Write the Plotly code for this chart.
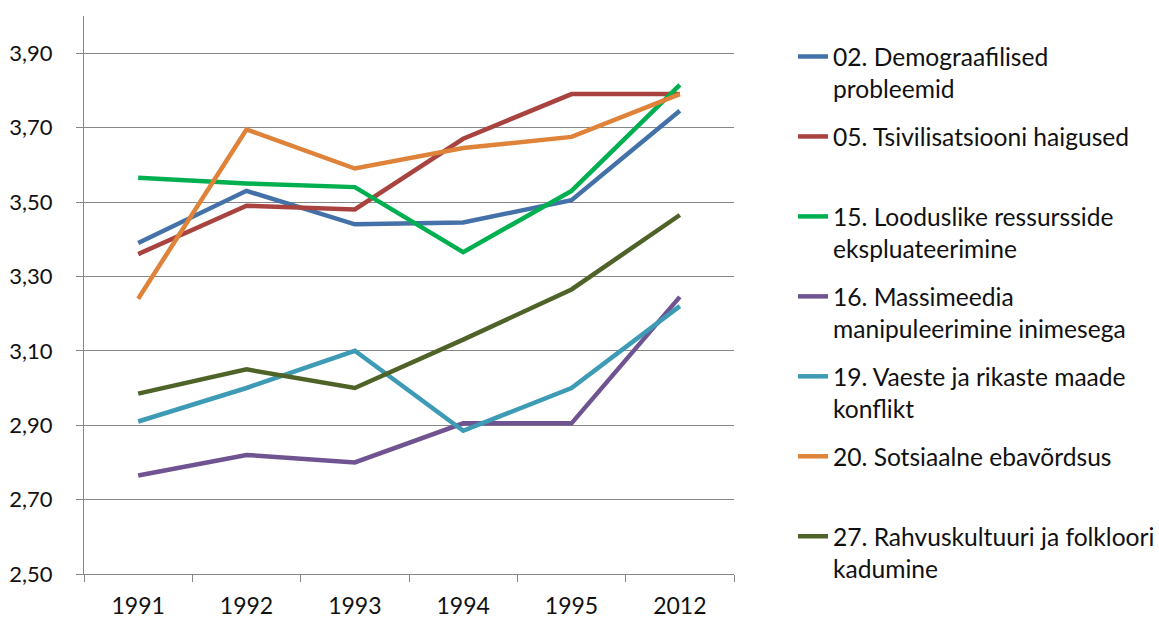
import plotly.graph_objects as go

years = ["1991", "1992", "1993", "1994", "1995", "2012"]

names = [
    "02. Demograafilised<br>probleemid",
    "05. Tsivilisatsiooni haigused<br> ",
    "15. Looduslike ressursside<br>ekspluateerimine",
    "16. Massimeedia<br>manipuleerimine inimesega",
    "19. Vaeste ja rikaste maade<br>konflikt",
    "20. Sotsiaalne ebavõrdsus<br> ",
    "27. Rahvuskultuuri ja folkloori<br>kadumine",
]

s02 = [3.39, 3.53, 3.44, 3.445, 3.505, 3.745]
s05 = [3.36, 3.49, 3.48, 3.67, 3.79, 3.79]
s15 = [3.565, 3.55, 3.54, 3.365, 3.53, 3.815]
s16 = [2.765, 2.82, 2.80, 2.905, 2.905, 3.245]
s19 = [2.91, 3.00, 3.10, 2.885, 3.00, 3.22]
s20 = [3.24, 3.695, 3.59, 3.645, 3.675, 3.79]
s27 = [2.985, 3.05, 3.00, 3.13, 3.265, 3.465]

series = [s02, s05, s15, s16, s19, s20, s27]
colors = ["#4472A8", "#A9433F", "#00B050", "#6F5491", "#3E9BB5", "#DE8339", "#4F6228"]

ytick_vals = [2.5, 2.7, 2.9, 3.1, 3.3, 3.5, 3.7, 3.9]

fig = go.Figure()
for i, (nm, vals, col) in enumerate(zip(names, series, colors)):
    fig.add_trace(go.Scatter(
        x=years, y=vals, name=nm, mode="lines",
        line=dict(color=col, width=4.5),
        legendgroup=str(i),
    ))

font = "Lato, 'Open Sans', sans-serif"
fig.update_layout(
    width=1159, height=619, autosize=False,
    margin=dict(l=84, r=425, t=16, b=45, autoexpand=False),
    plot_bgcolor="white", paper_bgcolor="white",
    separators=", ",
    font=dict(family=font, size=22, color="#111111"),
    showlegend=True,
    legend=dict(
        xref="container", yref="container",
        x=793 / 1159, y=1 - 34 / 619, xanchor="left", yanchor="top",
        font=dict(family=font, size=24.6, color="#111111"),
        valign="top", tracegroupgap=13, maxheight=600,
        bgcolor="rgba(0,0,0,0)",
    ),
    xaxis=dict(
        type="category", range=[-0.5, 5.5], automargin=False,
        showline=True, linecolor="#878787", linewidth=1.3,
        ticks="outside", ticklen=7, tickcolor="#878787", tickwidth=1.3,
        tickson="boundaries", showgrid=False,
        tickfont=dict(family=font, size=23, color="#111111"),
        ticklabelstandoff=11,
    ),
    yaxis=dict(
        range=[2.5, 4.0], tickvals=ytick_vals, tickformat=".2f", automargin=False,
        showline=True, linecolor="#878787", linewidth=1.3,
        ticks="outside", ticklen=7, tickcolor="#878787", tickwidth=1.3,
        showgrid=True, gridcolor="#878787", gridwidth=1.3,
        zeroline=False,
        tickfont=dict(family=font, size=22, color="#111111"),
        ticklabelstandoff=19,
    ),
)

fig.write_html("out.html", config={"displayModeBar": False})
with open("out.html", "r", encoding="utf-8") as f:
    html = f.read()
html = html.replace("<head>", "<head><style>html,body{margin:0;padding:0;overflow:hidden}</style>", 1)
with open("out.html", "w", encoding="utf-8") as f:
    f.write(html)
